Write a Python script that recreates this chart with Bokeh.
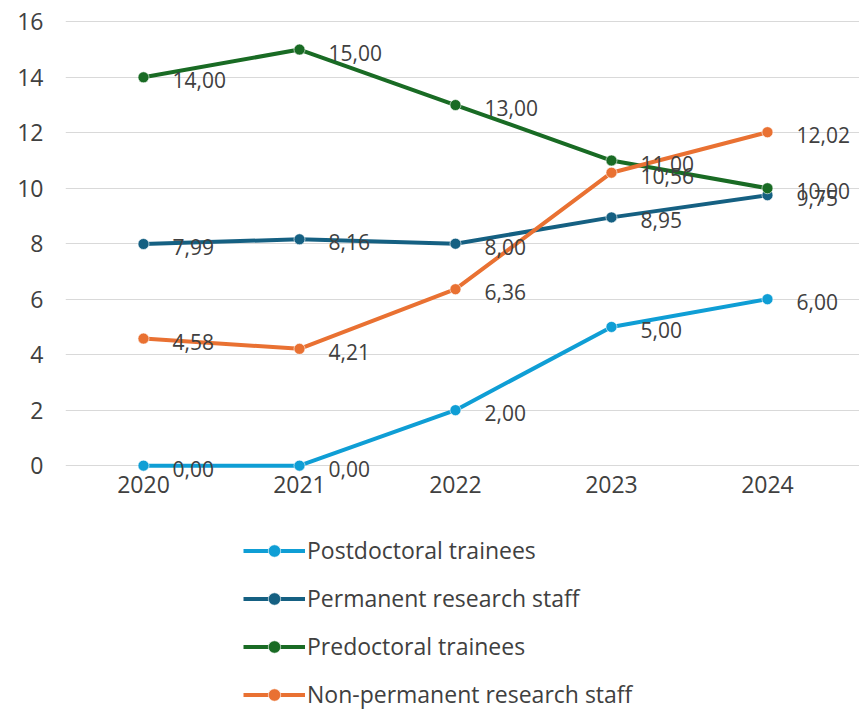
from bokeh.plotting import figure
from bokeh.layouts import column
from bokeh.models import Range1d, Legend, LegendItem, ColumnDataSource, FixedTicker
from bokeh.core.properties import value
from bokeh.embed import file_html
from bokeh.resources import INLINE

years = [2020, 2021, 2022, 2023, 2024]
year_labels = ["2020", "2021", "2022", "2023", "2024"]
postdoc = [0.00, 0.00, 2.00, 5.00, 6.00]
permanent = [7.99, 8.16, 8.00, 8.95, 9.75]
predoc = [14.00, 15.00, 13.00, 11.00, 10.00]
nonperm = [4.58, 4.21, 6.36, 10.56, 12.02]
series_names = ["Postdoctoral trainees", "Permanent research staff",
                "Predoctoral trainees", "Non-permanent research staff"]
y_ticks = [0, 2, 4, 6, 8, 10, 12, 14, 16]

colors = ["#0F9ED5", "#156082", "#196B24", "#E97132"]
FONT = "Open Sans"
TXT = "#404040"

p = figure(width=859, height=520, x_range=Range1d(2019.5, 2024.59),
           y_range=Range1d(-0.5, 16.3), output_backend="svg",
           toolbar_location=None, min_border_left=65, min_border_right=0,
           min_border_top=13, min_border_bottom=41)
p.outline_line_color = None
p.xgrid.grid_line_color = None
p.ygrid.grid_line_color = "#D9D9D9"
p.ygrid.grid_line_width = 1
p.yaxis.ticker = FixedTicker(ticks=y_ticks)
p.xaxis.ticker = FixedTicker(ticks=years)
p.xaxis.major_label_overrides = {y: s for y, s in zip(years, year_labels)}
for ax in (p.xaxis[0], p.yaxis[0]):
    ax.axis_line_color = None
    ax.major_tick_line_color = None
    ax.minor_tick_line_color = None
    ax.major_tick_out = 0
    ax.major_label_text_font = FONT
    ax.major_label_text_font_size = "23px"
    ax.major_label_text_color = TXT
p.yaxis.major_label_standoff = 22
p.xaxis.major_label_standoff = -4

all_series = [postdoc, permanent, predoc, nonperm]
for vals, c in zip(all_series, colors):
    src = ColumnDataSource(dict(x=years, y=vals))
    p.line("x", "y", source=src, line_color=c, line_width=4)
    p.scatter("x", "y", source=src, size=11, fill_color=c, line_color="white",
              line_width=1, line_alpha=0.6)

for vals in all_series:
    labels = [f"{v:.2f}".replace(".", ",") for v in vals]
    src = ColumnDataSource(dict(x=years, y=vals, t=labels))
    p.text("x", "y", text="t", source=src, x_offset=29, y_offset=3,
           text_baseline="middle", text_align="left",
           text_font=value(FONT), text_font_size="21px", text_color=TXT)

# legend panel below the chart
p2 = figure(width=859, height=189, x_range=Range1d(0, 1), y_range=Range1d(0, 1),
            x_axis_type=None, y_axis_type=None, output_backend="svg",
            toolbar_location=None, min_border=0)
p2.outline_line_color = None
p2.grid.grid_line_color = None
items = []
for name, c in zip(series_names, colors):
    l = p2.line([-10, -9], [-10, -9], line_color=c, line_width=4)
    s = p2.scatter([-10], [-10], size=9, fill_color=c, line_color="white",
                   line_width=1, line_alpha=0.6)
    items.append(LegendItem(label=name, renderers=[l, s]))

legend = Legend(items=items, location=(178, -1), orientation="vertical",
                padding=0, margin=0, spacing=16, glyph_width=62, glyph_height=31,
                label_height=31, label_standoff=2, border_line_color=None,
                background_fill_alpha=0, label_text_font=FONT,
                label_text_font_size="23px", label_text_color=TXT)
p2.add_layout(legend, "center")

layout = column(p, p2, spacing=0)
open("out.html", "w").write(file_html(layout, INLINE))
